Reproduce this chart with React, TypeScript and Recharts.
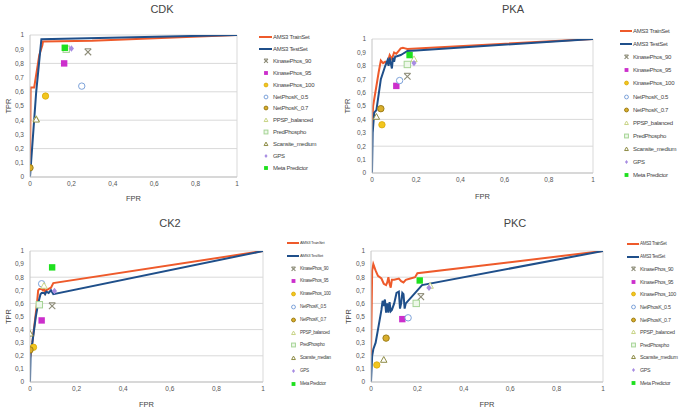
import React from 'react';
import { ComposedChart, Line, Scatter, XAxis, YAxis, CartesianGrid, ReferenceLine } from 'recharts';

const xTicks = [0, 0.2, 0.4, 0.6, 0.8, 1];
const yTicks = [0, 0.1, 0.2, 0.3, 0.4, 0.5, 0.6, 0.7, 0.8, 0.9, 1];

const predictors = [
  'KinasePhos_90',
  'KinasePhos_95',
  'KinasePhos_100',
  'NetPhosK_0.5',
  'NetPhosK_0.7',
  'PPSP_balanced',
  'PredPhospho',
  'Scansite_medium',
  'GPS',
  'Meta Predictor',
];
const ck2Predictors = predictors.map((n) => (n === 'Scansite_medium' ? 'Scansite_median' : n));

// ROC curves [fpr, tpr]
const cdkTrain = [[0, 0], [0.003, 0.63], [0.02, 0.63], [0.045, 0.86], [0.06, 0.93], [0.063, 0.955], [0.3, 0.96], [1, 1]];
const cdkTest = [[0, 0], [0.01, 0.2], [0.03, 0.6], [0.055, 0.97], [1, 1]];
// predictor points [fpr, tpr], same order as predictors
const cdkPoints = [[0.28, 0.88], [0.165, 0.8], [0.075, 0.57], [0.25, 0.64], [0.0, 0.065], [0.03, 0.41], [0.175, 0.9], [0.03, 0.405], [0.2, 0.905], [0.168, 0.91]];

const pkaTrain = [[0, 0.3], [0.005, 0.5], [0.03, 0.75], [0.04, 0.84], [0.05, 0.82], [0.06, 0.83], [0.07, 0.82], [0.08, 0.88], [0.09, 0.85], [0.1, 0.9], [0.11, 0.89], [0.12, 0.91], [0.13, 0.93], [0.14, 0.935], [0.15, 0.93], [0.16, 0.925], [1, 1]];
const pkaTest = [[0, 0], [0.003, 0.3], [0.01, 0.45], [0.02, 0.47], [0.04, 0.7], [0.06, 0.8], [0.07, 0.84], [0.075, 0.8], [0.08, 0.86], [0.085, 0.82], [0.09, 0.78], [0.095, 0.86], [0.1, 0.83], [0.105, 0.87], [0.11, 0.87], [0.13, 0.88], [0.14, 0.89], [0.16, 0.91], [0.2, 0.915], [1, 1]];
const pkaPoints = [[0.16, 0.72], [0.11, 0.65], [0.045, 0.36], [0.125, 0.69], [0.04, 0.48], [0.19, 0.85], [0.16, 0.81], [0.02, 0.42], [0.19, 0.82], [0.17, 0.88]];

const ck2Train = [[0, 0.18], [0.01, 0.3], [0.03, 0.6], [0.035, 0.7], [0.04, 0.71], [0.05, 0.71], [0.055, 0.7], [0.06, 0.72], [0.065, 0.68], [0.07, 0.7], [0.08, 0.71], [0.09, 0.72], [0.1, 0.755], [1, 1]];
const ck2Test = [[0, 0], [0.003, 0.25], [0.01, 0.3], [0.025, 0.5], [0.035, 0.6], [0.045, 0.67], [0.05, 0.68], [0.06, 0.68], [0.065, 0.67], [0.07, 0.69], [0.08, 0.68], [0.09, 0.7], [0.1, 0.67], [1, 1]];
const ck2Points = [[0.095, 0.58], [0.05, 0.47], [0.015, 0.265], [0.05, 0.75], [0.0, 0.245], [0.06, 0.735], [0.04, 0.59], [0.0, 0.37], [0.105, 0.695], [0.095, 0.875]];

const pkcTrain = [[0, 0.2], [0.005, 0.85], [0.01, 0.9], [0.02, 0.85], [0.03, 0.81], [0.045, 0.79], [0.055, 0.75], [0.065, 0.74], [0.07, 0.76], [0.075, 0.8], [0.08, 0.75], [0.085, 0.72], [0.09, 0.78], [0.1, 0.78], [0.12, 0.79], [0.13, 0.77], [0.14, 0.76], [0.15, 0.78], [0.17, 0.79], [0.19, 0.8], [0.2, 0.83], [1, 1]];
const pkcTest = [[0, 0], [0.005, 0.2], [0.01, 0.25], [0.02, 0.3], [0.03, 0.4], [0.045, 0.55], [0.05, 0.62], [0.055, 0.58], [0.06, 0.63], [0.065, 0.53], [0.07, 0.6], [0.075, 0.53], [0.08, 0.61], [0.085, 0.54], [0.09, 0.55], [0.1, 0.6], [0.11, 0.68], [0.12, 0.69], [0.125, 0.56], [0.13, 0.6], [0.135, 0.68], [0.14, 0.67], [0.145, 0.56], [0.15, 0.6], [0.2, 0.7], [0.22, 0.74], [1, 1]];
const pkcPoints = [[0.215, 0.65], [0.135, 0.48], [0.025, 0.13], [0.16, 0.49], [0.065, 0.335], [0.255, 0.735], [0.195, 0.6], [0.055, 0.17], [0.25, 0.72], [0.21, 0.775]];

const TRAIN = '#ee5a2b';
const TEST = '#1f4f8a';
const FONT = '"Liberation Sans", Arial, sans-serif';

const toXY = (arr: number[][]) => arr.map(([fpr, tpr]) => ({ fpr, tpr }));
const fmt = (v: number) => String(v).replace('.', ',');

function Marker({ idx, cx, cy, s = 1 }: { idx: number; cx: number; cy: number; s?: number }) {
  const r = 3.2 * s;
  switch (idx) {
    case 0:
      return (
        <g stroke="#8d8c78" strokeWidth={1.1}>
          <line x1={cx - r} y1={cy - r} x2={cx + r} y2={cy + r} />
          <line x1={cx - r} y1={cy + r} x2={cx + r} y2={cy - r} />
          <line x1={cx - r} y1={cy - r} x2={cx + r} y2={cy - r} />
        </g>
      );
    case 1:
      return <rect x={cx - r} y={cy - r} width={2 * r} height={2 * r} fill="#cc2fcc" />;
    case 2:
      return <circle cx={cx} cy={cy} r={r} fill="#f2c61e" stroke="#d9a90a" strokeWidth={0.8} />;
    case 3:
      return <circle cx={cx} cy={cy} r={r} fill="#fff" stroke="#7ea3da" strokeWidth={1} />;
    case 4:
      return <circle cx={cx} cy={cy} r={r} fill="#d9ae2c" stroke="#9e7e18" strokeWidth={1} />;
    case 5:
      return <polygon points={`${cx},${cy - r} ${cx + r},${cy + r * 0.8} ${cx - r},${cy + r * 0.8}`} fill="#fff" stroke="#c8d486" strokeWidth={1} />;
    case 6:
      return <rect x={cx - r} y={cy - r} width={2 * r} height={2 * r} fill="#eef8ea" stroke="#a5d495" strokeWidth={1} />;
    case 7:
      return <polygon points={`${cx},${cy - r} ${cx + r},${cy + r * 0.8} ${cx - r},${cy + r * 0.8}`} fill="#fff" stroke="#8e8c46" strokeWidth={1} />;
    case 8:
      return <polygon points={`${cx},${cy - r} ${cx + r * 0.8},${cy} ${cx},${cy + r} ${cx - r * 0.8},${cy}`} fill="#a78ce2" />;
    default:
      return <rect x={cx - r} y={cy - r} width={2 * r} height={2 * r} fill="#1ee01e" />;
  }
}

interface PanelProps {
  title: string;
  names: string[];
  train: number[][];
  test: number[][];
  points: number[][];
  left: number;
  top: number;
  width: number;
  height: number;
  mTop: number;
  mRight: number;
  yW: number;
  xH: number;
  titleX: number;
  titleY: number;
  tprDx: number;
  fprOffset: number;
  lineX: number;
  textX: number;
  legY: number;
  legStep: number;
  legFont: number;
  lineFont: number;
}

function Panel(p: PanelProps) {
  const legendRows = ['AMS3 TrainSet', 'AMS3 TestSet', ...p.names];
  return (
    <>
      <div
        style={{
          position: 'absolute',
          left: p.titleX - 40,
          top: p.titleY - 7,
          width: 80,
          textAlign: 'center',
          fontSize: 11,
          fontWeight: 400,
          color: '#444',
          fontFamily: FONT,
          lineHeight: '14px',
        }}
      >
        {p.title}
      </div>
      <div style={{ position: 'absolute', left: p.left, top: p.top }}>
        <ComposedChart
          width={p.width}
          height={p.height}
          margin={{ top: p.mTop, right: p.mRight, bottom: 0, left: 0 }}
          style={{ fontFamily: FONT }}
        >
          <CartesianGrid vertical={false} stroke="#d9d9d9" />
          <XAxis
            type="number"
            dataKey="fpr"
            domain={[0, 1]}
            ticks={xTicks}
            tickFormatter={fmt}
            height={p.xH}
            tickLine={false}
            tickSize={3}
            tickMargin={1}
            stroke="#c4c4c4"
            tick={{ fontSize: 6.5, fill: '#555' }}
            allowDataOverflow
            label={{ value: 'FPR', position: 'insideBottom', offset: p.fprOffset, fontSize: 7.5, fill: '#444' }}
          />
          <YAxis
            type="number"
            dataKey="tpr"
            domain={[0, 1]}
            ticks={yTicks}
            tickFormatter={fmt}
            width={p.yW}
            tickLine={false}
            tickSize={3}
            tickMargin={3}
            stroke="#c4c4c4"
            tick={{ fontSize: 6.5, fill: '#555' }}
            allowDataOverflow
            label={{ value: 'TPR', angle: -90, position: 'center', dx: p.tprDx, fontSize: 7.5, fill: '#444' }}
          />
          <ReferenceLine x={1} stroke="#d9d9d9" />
          <Line data={toXY(p.train)} dataKey="tpr" stroke={TRAIN} strokeWidth={2} dot={false} isAnimationActive={false} />
          <Line data={toXY(p.test)} dataKey="tpr" stroke={TEST} strokeWidth={2} dot={false} isAnimationActive={false} />
          {p.points.map((pt, i) => (
            <Scatter
              key={p.names[i]}
              name={p.names[i]}
              data={toXY([pt])}
              dataKey="tpr"
              isAnimationActive={false}
              shape={(sp: any) => <Marker idx={i} cx={sp.cx} cy={sp.cy} />}
            />
          ))}
        </ComposedChart>
      </div>
      {legendRows.map((name, i) => {
        const y = p.legY + i * p.legStep;
        const fs = i < 2 ? p.lineFont : p.legFont;
        return (
          <React.Fragment key={name}>
            <svg style={{ position: 'absolute', left: p.lineX, top: y - 4 }} width={p.textX - p.lineX} height={8}>
              {i < 2 ? (
                <line x1={0} y1={4} x2={p.textX - p.lineX - 1} y2={4} stroke={i === 0 ? TRAIN : TEST} strokeWidth={2} />
              ) : (
                <Marker idx={i - 2} cx={(p.textX - p.lineX) / 2} cy={4} s={0.6} />
              )}
            </svg>
            <div
              style={{
                position: 'absolute',
                left: p.textX,
                top: y - 5,
                fontSize: fs,
                letterSpacing: -0.3,
                lineHeight: '10px',
                color: '#444',
                fontFamily: FONT,
                whiteSpace: 'nowrap',
              }}
            >
              {name}
            </div>
          </React.Fragment>
        );
      })}
    </>
  );
}

export default function App() {
  return (
    <div style={{ position: 'absolute', left: 0, top: 0, width: 685, height: 416, background: '#fff', overflow: 'hidden' }}>
      <Panel
        title="CDK" names={predictors} train={cdkTrain} test={cdkTest} points={cdkPoints}
        left={0} top={0} width={250} height={208} mTop={35} mRight={13} yW={30} xH={31}
        titleX={162} titleY={9} tprDx={-7} fprOffset={7}
        lineX={259} textX={273} legY={37} legStep={11.9} legFont={6} lineFont={6}
      />
      <Panel
        title="PKA" names={predictors} train={pkaTrain} test={pkaTest} points={pkaPoints}
        left={342} top={0} width={260} height={208} mTop={39} mRight={9} yW={30} xH={35}
        titleX={513} titleY={9} tprDx={-10} fprOffset={9}
        lineX={620} textX={633} legY={31} legStep={13.1} legFont={6} lineFont={6}
      />
      <Panel
        title="CK2" names={ck2Predictors} train={ck2Train} test={ck2Test} points={ck2Points}
        left={0} top={208} width={275} height={208} mTop={43} mRight={12} yW={30} xH={34}
        titleX={170} titleY={223} tprDx={-7} fprOffset={9}
        lineX={287} textX={300} legY={243} legStep={12.8} legFont={4.6} lineFont={4.2}
      />
      <Panel
        title="PKC" names={predictors} train={pkcTrain} test={pkcTest} points={pkcPoints}
        left={342} top={208} width={270} height={208} mTop={43} mRight={9} yW={29} xH={34}
        titleX={515} titleY={223} tprDx={-8.5} fprOffset={9}
        lineX={627} textX={640} legY={244} legStep={12.6} legFont={5.3} lineFont={4.5}
      />
    </div>
  );
}
